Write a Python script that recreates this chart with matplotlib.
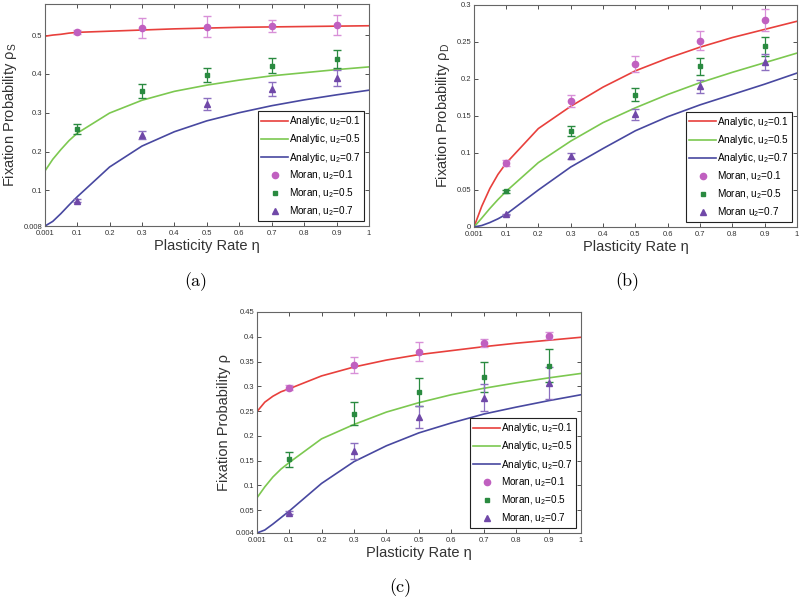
import numpy as np
import matplotlib
matplotlib.use('Agg')
import matplotlib.pyplot as plt

plt.rcParams['font.family'] = ['Liberation Sans', 'DejaVu Sans']
plt.rcParams['mathtext.default'] = 'regular'

# x values of the analytic curves and of the Moran simulations
eta_line = [0.001, 0.025, 0.05, 0.075, 0.1, 0.2, 0.3, 0.4, 0.5, 0.6, 0.7, 0.8, 0.9, 1.0]
eta_pts = [0.1, 0.3, 0.5, 0.7, 0.9]

# panel (a) rho_S
a_line1 = [0.497, 0.500, 0.502, 0.505, 0.507, 0.510, 0.513, 0.516, 0.518, 0.520, 0.521, 0.522, 0.523, 0.524]
a_line5 = [0.150, 0.180, 0.205, 0.228, 0.247, 0.299, 0.332, 0.355, 0.371, 0.384, 0.395, 0.403, 0.411, 0.418]
a_line7 = [0.008, 0.020, 0.040, 0.062, 0.083, 0.160, 0.214, 0.251, 0.279, 0.300, 0.318, 0.333, 0.346, 0.358]
a_m1 = [0.508, 0.518, 0.522, 0.524, 0.526]
a_e1 = [0.005, 0.026, 0.027, 0.016, 0.026]
a_m5 = [0.258, 0.357, 0.397, 0.421, 0.438]
a_e5 = [0.013, 0.018, 0.019, 0.020, 0.023]
a_m7 = [0.0735, 0.242, 0.323, 0.362, 0.389]
a_e7 = [0.003, 0.011, 0.016, 0.018, 0.020]

# panel (b) rho_D
b_line1 = [0.0, 0.028, 0.052, 0.071, 0.086, 0.133, 0.163, 0.189, 0.211, 0.228, 0.243, 0.256, 0.267, 0.278]
b_line5 = [0.0, 0.012, 0.025, 0.037, 0.048, 0.087, 0.116, 0.141, 0.161, 0.179, 0.195, 0.209, 0.222, 0.235]
b_line7 = [0.0, 0.002, 0.006, 0.011, 0.017, 0.050, 0.081, 0.106, 0.130, 0.149, 0.165, 0.179, 0.193, 0.208]
b_m1 = [0.086, 0.170, 0.220, 0.252, 0.280]
b_e1 = [0.004, 0.008, 0.011, 0.013, 0.015]
b_m5 = [0.048, 0.130, 0.179, 0.217, 0.244]
b_e5 = [0.002, 0.007, 0.009, 0.011, 0.013]
b_m7 = [0.017, 0.0955, 0.152, 0.190, 0.2225]
b_e7 = [0.001, 0.004, 0.007, 0.009, 0.011]

# panel (c) rho
c_line1 = [0.249, 0.268, 0.280, 0.289, 0.295, 0.321, 0.339, 0.353, 0.364, 0.372, 0.380, 0.387, 0.393, 0.399]
c_line5 = [0.075, 0.097, 0.117, 0.133, 0.146, 0.194, 0.223, 0.248, 0.267, 0.283, 0.296, 0.307, 0.317, 0.326]
c_line7 = [0.004, 0.010, 0.022, 0.035, 0.048, 0.104, 0.148, 0.180, 0.206, 0.226, 0.244, 0.258, 0.271, 0.283]
c_m1 = [0.297, 0.343, 0.370, 0.387, 0.402]
c_e1 = [0.005, 0.017, 0.019, 0.008, 0.007]
c_m5 = [0.153, 0.245, 0.289, 0.319, 0.342]
c_e5 = [0.015, 0.024, 0.028, 0.031, 0.034]
c_m7 = [0.0445, 0.169, 0.238, 0.277, 0.306]
c_e7 = [0.003, 0.016, 0.023, 0.027, 0.032]

xticks = [0.001, 0.1, 0.2, 0.3, 0.4, 0.5, 0.6, 0.7, 0.8, 0.9, 1]
xticklabels = ['0.001', '0.1', '0.2', '0.3', '0.4', '0.5', '0.6', '0.7', '0.8', '0.9', '1']

red = '#e8403c'
green = '#7cc850'
blue = '#4848a0'
mag = '#c060c0'
mag_err = '#d890d8'
dgreen = '#2a8a40'
purple = '#7048a8'
purple_err = '#8c70c0'


def panel(ax, lines, pts, errs, ylim, yticks, yticklabels, ylabel, last_label):
    l1, l5, l7 = lines
    ax.plot(eta_line, l1, color=red, lw=1.2, label='Analytic, u$_2$=0.1')
    ax.plot(eta_line, l5, color=green, lw=1.2, label='Analytic, u$_2$=0.5')
    ax.plot(eta_line, l7, color=blue, lw=1.2, label='Analytic, u$_2$=0.7')
    ax.errorbar(eta_pts, pts[0], yerr=errs[0], fmt='none', ecolor=mag_err, elinewidth=0.9, capsize=3)
    ax.errorbar(eta_pts, pts[1], yerr=errs[1], fmt='none', ecolor=dgreen, elinewidth=0.9, capsize=3)
    ax.errorbar(eta_pts, pts[2], yerr=errs[2], fmt='none', ecolor=purple_err, elinewidth=0.9, capsize=3)
    ax.plot(eta_pts, pts[0], 'o', color=mag, ms=4.5, mec=mag, label='Moran, u$_2$=0.1')
    ax.plot(eta_pts, pts[1], 's', color=dgreen, ms=3.3, mec=dgreen, label='Moran, u$_2$=0.5')
    ax.plot(eta_pts, pts[2], '^', color=purple, ms=4.5, mec=purple, label=last_label)
    ax.set_xlim(0.001, 1)
    ax.set_ylim(*ylim)
    ax.set_xticks(xticks)
    ax.set_xticklabels(xticklabels)
    ax.set_yticks(yticks)
    ax.set_yticklabels(yticklabels)
    ax.tick_params(direction='in', top=True, right=True, labelsize=5.5, length=3, width=0.6, colors='#333333', pad=2)
    ax.tick_params(axis='x', pad=3)
    for s in ax.spines.values():
        s.set_color('#666666')
        s.set_linewidth(0.8)
    ax.set_xlabel('Plasticity Rate η', fontsize=10.5, color='#333333', labelpad=1)
    ax.set_ylabel(ylabel, fontsize=10.5, color='#333333', labelpad=3)
    leg = ax.legend(loc='lower right', fontsize=7.2, handlelength=2.7, handletextpad=0.1,
                    borderpad=0.3, labelspacing=0.42, borderaxespad=0.5,
                    fancybox=False, framealpha=1, edgecolor='#222222')
    leg.get_frame().set_linewidth(0.8)


fig = plt.figure(figsize=(8, 6), dpi=100)

ax_a = fig.add_axes([0.05625, 0.6233, 0.405, 0.37])
panel(ax_a, (a_line1, a_line5, a_line7), (a_m1, a_m5, a_m7), (a_e1, a_e5, a_e7),
      (0.008, 0.58), [0.008, 0.1, 0.2, 0.3, 0.4, 0.5], ['0.008', '0.1', '0.2', '0.3', '0.4', '0.5'],
      'Fixation Probability ρ$_S$', 'Moran, u$_2$=0.7')

ax_b = fig.add_axes([0.5925, 0.6217, 0.40375, 0.37])
panel(ax_b, (b_line1, b_line5, b_line7), (b_m1, b_m5, b_m7), (b_e1, b_e5, b_e7),
      (0, 0.3), [0, 0.05, 0.1, 0.15, 0.2, 0.25, 0.3], ['0', '0.05', '0.1', '0.15', '0.2', '0.25', '0.3'],
      'Fixation Probability ρ$_D$', 'Moran u$_2$=0.7')

ax_c = fig.add_axes([0.32125, 0.1117, 0.405, 0.3683])
panel(ax_c, (c_line1, c_line5, c_line7), (c_m1, c_m5, c_m7), (c_e1, c_e5, c_e7),
      (0.004, 0.45), [0.004, 0.05, 0.1, 0.15, 0.2, 0.25, 0.3, 0.35, 0.4, 0.45],
      ['0.004', '0.05', '0.1', '0.15', '0.2', '0.25', '0.3', '0.35', '0.4', '0.45'],
      'Fixation Probability ρ', 'Moran, u$_2$=0.7')

# panel captions, in a computer-modern look
fig.text(196 / 800, 1 - 282 / 600, '(a)', family=['cmr10', 'DejaVu Serif'], fontsize=13, ha='center', va='center')
fig.text(627 / 800, 1 - 282 / 600, '(b)', family=['cmr10', 'DejaVu Serif'], fontsize=13, ha='center', va='center')
fig.text(400 / 800, 1 - 588 / 600, '(c)', family=['cmr10', 'DejaVu Serif'], fontsize=13, ha='center', va='center')

fig.savefig('out.png', dpi=100)
